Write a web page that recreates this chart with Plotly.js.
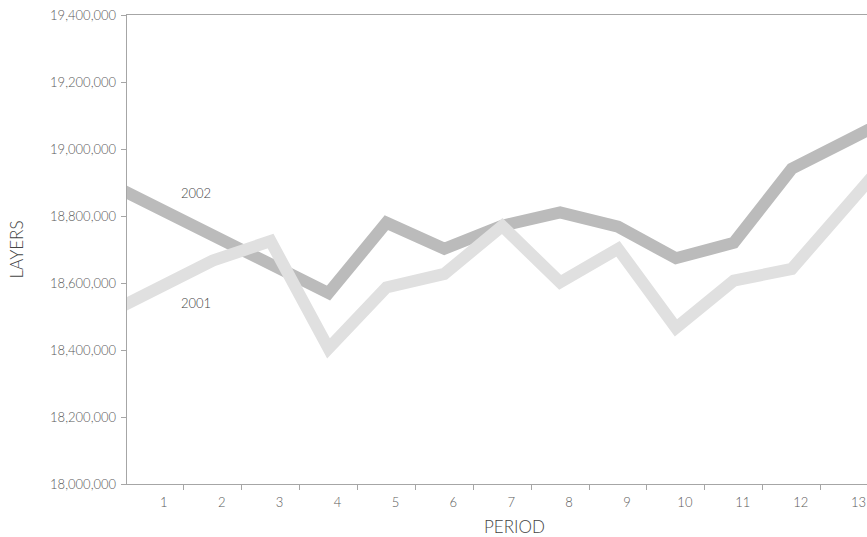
<!DOCTYPE html>
<html>
<head>
<meta charset="utf-8">
<script src="https://cdn.plot.ly/plotly-3.0.1.min.js"></script>
<style>
html,body{margin:0;padding:0;background:#fff;}
#chart{width:867px;height:537px;}
</style>
</head>
<body>
<div id="chart"></div>
<script>
// Periods shown on the axis
const periods = [1,2,3,4,5,6,7,8,9,10,11,12,13];
const periodLabels = ["1","2","3","4","5","6","7","8","9","10","11","12","13"];
// The lines run off both edges of the plot; the values just outside (periods 0 and 14)
const xPoints = [0,1,2,3,4,5,6,7,8,9,10,11,12,13,14];
const layers2002 = [18915000,18829000,18743000,18656000,18570000,18780000,18702000,18771000,18811000,18768000,18674000,18720000,18941000,19029000,19117000];
const layers2001 = [18493000,18580000,18667000,18725000,18405000,18587000,18627000,18770000,18602000,18702000,18466000,18607000,18642000,18840000,19038000];
const yTicks = [18000000,18200000,18400000,18600000,18800000,19000000,19200000,19400000];
const seriesNames = ["2002","2001"];
const xTitle = "PERIOD";
const yTitle = "LAYERS";

const fontFam = "Lato, 'DejaVu Sans', sans-serif";
const tickFont = {family:fontFam, size:13, color:"#5a5a5a", weight:300};

const traces = [
  {x:xPoints, y:layers2002, name:seriesNames[0], mode:"lines", line:{color:"#bbbbbb", width:12}, hoverinfo:"skip"},
  {x:xPoints, y:layers2001, name:seriesNames[1], mode:"lines", line:{color:"#e0e0e0", width:12}, hoverinfo:"skip"}
];

const layout = {
  width:867, height:537,
  margin:{l:127, r:0, t:15, b:53},
  paper_bgcolor:"#ffffff", plot_bgcolor:"#ffffff",
  showlegend:false,
  font:{family:fontFam, color:"#555555", size:13},
  xaxis:{
    range:[0.52, 13.3],
    tickmode:"array", tickvals:periods, ticktext:periodLabels,
    ticks:"", showgrid:false, zeroline:false,
    showline:true, linecolor:"#a6a6a6", linewidth:1.3, mirror:true,
    ticklabelshift:9, ticklabelstandoff:6,
    tickfont:tickFont,
    minor:{tick0:0.5, dtick:1, ticks:"outside", ticklen:5, tickcolor:"#a6a6a6", tickwidth:1, showgrid:false}
  },
  yaxis:{
    range:[18000000, 19400000],
    tickmode:"array", tickvals:yTicks,
    tickformat:",d",
    ticks:"outside", ticklen:5, tickcolor:"#a6a6a6", tickwidth:1,
    showgrid:false, zeroline:false,
    showline:true, linecolor:"#a6a6a6", linewidth:1.3,
    tickfont:tickFont,
    ticklabelstandoff:2,
    title:{text:yTitle, font:{family:fontFam, size:17, color:"#444444", weight:300}, standoff:22}
  },
  annotations:[
    {x:1.72, y:18870000, xref:"x", yref:"y", text:seriesNames[0], showarrow:false, font:{family:fontFam, size:13, color:"#444444", weight:300}},
    {x:1.72, y:18541000, xref:"x", yref:"y", text:seriesNames[1], showarrow:false, font:{family:fontFam, size:13, color:"#444444", weight:300}},
    {x:0.524, y:-0.09, xref:"paper", yref:"paper", xanchor:"center", yanchor:"middle", text:xTitle, showarrow:false, font:{family:fontFam, size:17, color:"#444444", weight:300}}
  ]
};

Plotly.newPlot("chart", traces, layout, {displayModeBar:false, staticPlot:true});
</script>
</body>
</html>
